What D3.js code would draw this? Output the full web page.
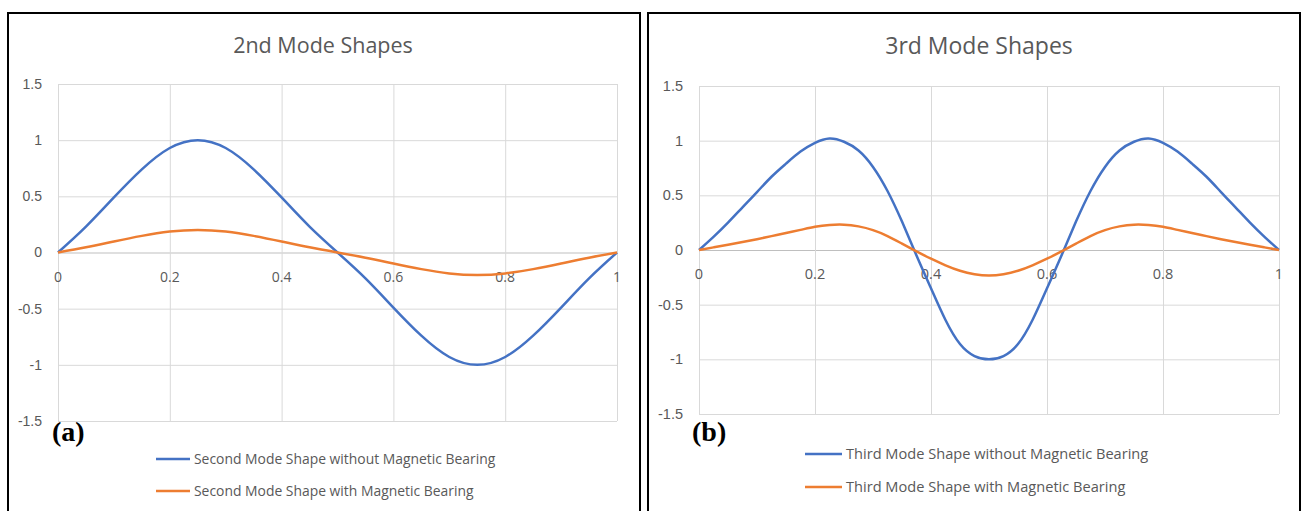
<!DOCTYPE html>
<html>
<head>
<meta charset="utf-8">
<script src="https://cdn.jsdelivr.net/npm/d3@7"></script>
<style>
  body { margin: 0; background: #fff; }
  svg { display: block; font-family: "Open Sans", "Noto Sans", sans-serif; }
  .tick text { fill: #595959; }
</style>
</head>
<body>
<svg id="chart" width="1304" height="511"></svg>
<script>
// ---- data ----
const xSecond = [0, 0.05, 0.1, 0.15, 0.2, 0.25, 0.3, 0.35, 0.4, 0.45, 0.5,
                 0.55, 0.6, 0.65, 0.7, 0.75, 0.8, 0.85, 0.9, 0.95, 1];
const secondWithout = [0, 0.23, 0.49, 0.74, 0.93, 1.0, 0.93, 0.74, 0.49, 0.23, 0,
                       -0.23, -0.49, -0.74, -0.93, -1.0, -0.93, -0.74, -0.49, -0.23, 0];
const secondWith = [0, 0.046, 0.098, 0.148, 0.186, 0.2, 0.186, 0.148, 0.098, 0.046, 0,
                    -0.046, -0.098, -0.148, -0.186, -0.2, -0.186, -0.148, -0.098, -0.046, 0];

const xThird = [0, 0.025, 0.05, 0.075, 0.1, 0.125, 0.15, 0.175, 0.2, 0.225, 0.25,
                0.275, 0.3, 0.325, 0.35, 0.375, 0.4, 0.425, 0.45, 0.475, 0.5,
                0.525, 0.55, 0.575, 0.6, 0.625, 0.65, 0.675, 0.7, 0.725, 0.75,
                0.775, 0.8, 0.825, 0.85, 0.875, 0.9, 0.925, 0.95, 0.975, 1];
const thirdWithout = [0, 0.12, 0.25, 0.39, 0.53, 0.67, 0.79, 0.9, 0.98, 1.02, 0.99,
                      0.91, 0.76, 0.54, 0.26, -0.05, -0.35, -0.64, -0.86, -0.97, -1.0,
                      -0.97, -0.86, -0.64, -0.35, -0.05, 0.26, 0.54, 0.76, 0.91, 0.99,
                      1.02, 0.98, 0.9, 0.79, 0.67, 0.53, 0.39, 0.25, 0.12, 0];
const thirdWith = [0, 0.024, 0.048, 0.073, 0.099, 0.127, 0.156, 0.184, 0.212, 0.229, 0.232,
                   0.216, 0.182, 0.128, 0.058, -0.013, -0.08, -0.14, -0.19, -0.222, -0.234,
                   -0.222, -0.19, -0.14, -0.08, -0.013, 0.058, 0.128, 0.182, 0.216, 0.232,
                   0.229, 0.212, 0.184, 0.156, 0.127, 0.099, 0.073, 0.048, 0.024, 0];

const xTicks = [0, 0.2, 0.4, 0.6, 0.8, 1];
const yTicks = [-1.5, -1, -0.5, 0, 0.5, 1, 1.5];

const BLUE = '#4472C4';
const ORANGE = '#ED7D31';

const svg = d3.select('#chart');

function drawPanel(p) {
    const g = svg.append('g');

    // frame (bottom edge runs off the picture)
    g.append('rect')
        .attr('x', p.frame[0]).attr('y', p.frame[1])
        .attr('width', p.frame[2]).attr('height', 520)
        .attr('fill', 'none').attr('stroke', '#000').attr('stroke-width', 2);

    const x = d3.scaleLinear().domain([0, 1]).range([p.left, p.right]);
    const y = d3.scaleLinear().domain([-1.5, 1.5]).range([p.bottom, p.top]);

    // gridlines + y labels (plain hyphen, as Excel prints them)
    g.append('g')
        .attr('transform', `translate(${p.left},0)`)
        .call(d3.axisLeft(y).tickValues(yTicks).tickSize(-(p.right - p.left))
            .tickPadding(p.left - p.yLabelRight)
            .tickFormat(d => String(d)))
        .call(a => a.select('.domain').remove())
        .call(a => a.selectAll('line').attr('stroke', d => d === 0 ? '#bfbfbf' : '#d9d9d9'))
        .call(a => a.selectAll('text').style('font-size', p.tickSize + 'px'));

    g.append('g')
        .attr('transform', `translate(0,${p.bottom})`)
        .call(d3.axisBottom(x).tickValues(xTicks).tickSize(-(p.bottom - p.top)).tickFormat(''))
        .call(a => a.select('.domain').remove())
        .call(a => a.selectAll('line').attr('stroke', '#d9d9d9'));

    // x labels sit just under the zero line
    g.append('g')
        .selectAll('text')
        .data(xTicks)
        .join('text')
        .attr('x', d => x(d))
        .attr('y', y(0) + p.xLabelDy)
        .attr('text-anchor', 'middle')
        .attr('fill', '#595959')
        .style('font-size', p.tickSize + 'px')
        .text(d => String(d));

    // curves
    const line = d3.line()
        .x(d => x(d[0]))
        .y(d => y(d[1]))
        .curve(d3.curveNatural);

    p.series.forEach(s => {
        g.append('path')
            .datum(p.xs.map((v, i) => [v, s.values[i]]))
            .attr('d', line)
            .attr('fill', 'none')
            .attr('stroke', s.color)
            .attr('stroke-width', 2.5);
    });

    // title
    g.append('text')
        .attr('x', p.titleX).attr('y', p.titleY)
        .attr('text-anchor', 'middle')
        .attr('fill', '#595959')
        .style('font-size', p.titleSize + 'px')
        .text(p.title);

    // panel tag
    g.append('text')
        .attr('x', p.tag[0]).attr('y', p.tag[1])
        .attr('font-family', '"Liberation Serif", "Times New Roman", serif')
        .attr('font-weight', 'bold')
        .style('font-size', '28px')
        .attr('fill', '#000')
        .text(p.tagText);

    // legend
    p.series.forEach((s, i) => {
        const ly = p.legendY + i * p.legendGap;
        g.append('line')
            .attr('x1', p.legendX).attr('x2', p.legendX + p.legendLen)
            .attr('y1', ly).attr('y2', ly)
            .attr('stroke', s.color).attr('stroke-width', 2.5);
        g.append('text')
            .attr('x', p.legendX + p.legendLen + 4).attr('y', ly)
            .attr('dy', '0.35em')
            .attr('fill', '#595959')
            .style('font-size', p.legendSize + 'px')
            .text(s.name);
    });
}

drawPanel({
    frame: [8, 13, 632],
    left: 58, right: 617, top: 84, bottom: 421,
    yLabelRight: 42, xLabelDy: 29, tickSize: 14,
    title: '2nd Mode Shapes', titleX: 323, titleY: 53, titleSize: 21.5,
    tag: [52, 441], tagText: '(a)',
    legendX: 156, legendLen: 34, legendY: 459, legendGap: 32, legendSize: 13.9,
    xs: xSecond,
    series: [
        { name: 'Second Mode Shape without Magnetic Bearing', values: secondWithout, color: BLUE },
        { name: 'Second Mode Shape with Magnetic Bearing', values: secondWith, color: ORANGE }
    ]
});

drawPanel({
    frame: [648, 13, 652],
    left: 699, right: 1279, top: 86, bottom: 414,
    yLabelRight: 683, xLabelDy: 29, tickSize: 14.5,
    title: '3rd Mode Shapes', titleX: 979, titleY: 54, titleSize: 23,
    tag: [692, 441], tagText: '(b)',
    legendX: 805, legendLen: 37, legendY: 454, legendGap: 33, legendSize: 14.6,
    xs: xThird,
    series: [
        { name: 'Third Mode Shape without Magnetic Bearing', values: thirdWithout, color: BLUE },
        { name: 'Third Mode Shape with Magnetic Bearing', values: thirdWith, color: ORANGE }
    ]
});
</script>
</body>
</html>
